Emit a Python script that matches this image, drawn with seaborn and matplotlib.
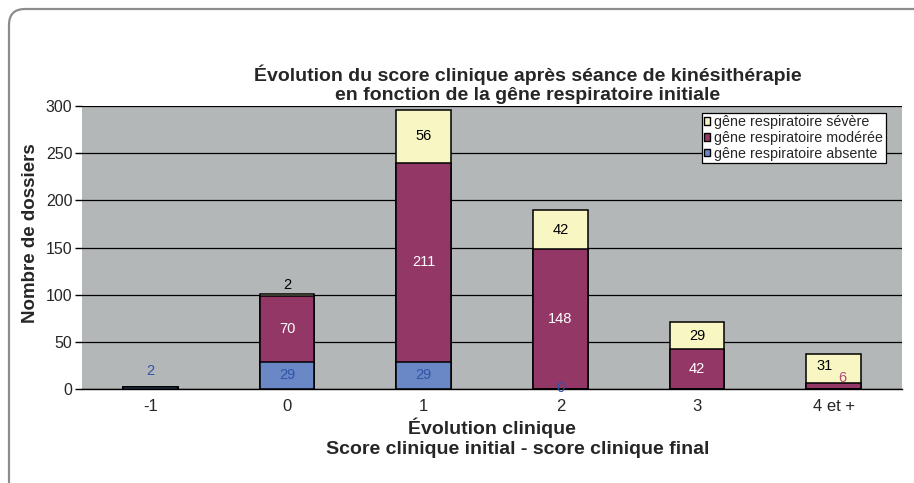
import pandas as pd
import matplotlib.pyplot as plt
import seaborn as sns
from matplotlib.patches import Patch, FancyBboxPatch

# data
categories = ["-1", "0", "1", "2", "3", "4 et +"]
absente = [2, 29, 29, 0, 0, 0]
moderee = [0, 70, 211, 148, 42, 6]
severe = [0, 2, 56, 42, 29, 31]

col_absente = "#6a87c6"
col_moderee = "#933767"
col_severe = "#f8f6c2"
bg_gray = "#b4b7b8"

sns.set_theme(style="white")
plt.rcParams["font.family"] = ["Liberation Sans", "DejaVu Sans"]

df = pd.DataFrame({"evol": categories, "absente": absente,
                   "moderee": moderee, "severe": severe})
df["cum_mod"] = df["absente"] + df["moderee"]
df["total"] = df["cum_mod"] + df["severe"]

fig = plt.figure(figsize=(9.14, 4.83), dpi=100)
fig.patch.set_facecolor("white")

# rounded frame around the chart (pixel coords)
frame = FancyBboxPatch((9, -40), 1000, 474 + 40, boxstyle="round,pad=0,rounding_size=16",
                       transform=None, facecolor="none", edgecolor="#8c8c8c", linewidth=1.6)
fig.patches.append(frame)

ax = fig.add_axes([82 / 914, 1 - 389 / 483, (902 - 82) / 914, (389 - 106) / 483])
ax.set_facecolor(bg_gray)

# stacked bars: draw cumulative totals from back to front
for col, color in [("total", col_severe), ("cum_mod", col_moderee), ("absente", col_absente)]:
    sns.barplot(data=df, x="evol", y=col, order=categories, color=color,
                width=0.4, edgecolor="black", linewidth=1.1, ax=ax, saturation=1, zorder=3)

ax.set_ylim(0, 300)
ax.set_xlim(-0.5, 5.5)
ax.set_yticks(range(0, 301, 50))
ax.yaxis.grid(True, color="black", linewidth=0.9)
ax.set_axisbelow(True)
for s in ["top", "right", "left"]:
    ax.spines[s].set_visible(False)
ax.spines["bottom"].set_color("black")
ax.spines["bottom"].set_linewidth(1)

ax.set_xticks(range(len(categories)))
ax.set_xticklabels(categories, fontsize=12)
ax.set_xticks([i + 0.5 for i in range(len(categories))], minor=True)
ax.tick_params(axis="x", which="major", length=0, pad=7)
ax.tick_params(axis="x", which="minor", length=5, width=1, color="black", direction="out")
ax.tick_params(axis="y", length=5, width=1, color="black", direction="out", labelsize=11.5, pad=2)
ax.tick_params(axis="y", left=True)
ax.set_xlabel("")
ax.set_ylabel("")

# value labels
lab_kw = dict(ha="center", va="center", fontsize=10.5, zorder=5)
for i in range(len(categories)):
    a, m, s = absente[i], moderee[i], severe[i]
    if m >= 20:
        ax.text(i, a + m / 2, str(m), color="white", **lab_kw)
    if s >= 20:
        ax.text(i - (0.07 if i == 5 else 0), a + m + s / 2 + (3 if i == 5 else 0), str(s), color="black", **lab_kw)
    if a >= 20:
        ax.text(i, a / 2, str(a), color="#2f55a4", **lab_kw)
# small values placed outside/near their segments
ax.text(0, 19, str(absente[0]), color="#2f55a4", **lab_kw)
ax.text(1, 110, str(severe[1]), color="black", **lab_kw)
ax.text(3, 1, str(absente[3]), color="#2f55a4", **lab_kw)
ax.text(5.06, 12, str(moderee[5]), color="#b04c7e", **lab_kw)

# legend
handles = [Patch(facecolor=col_severe, edgecolor="black", label="gêne respiratoire sévère"),
           Patch(facecolor=col_moderee, edgecolor="black", label="gêne respiratoire modérée"),
           Patch(facecolor=col_absente, edgecolor="black", label="gêne respiratoire absente")]
leg = ax.legend(handles=handles, loc="upper right", bbox_to_anchor=(0.98, 0.975), fontsize=10.3,
                frameon=True, fancybox=False, edgecolor="black", framealpha=1,
                handlelength=0.45, handleheight=0.45, handletextpad=0.3, borderpad=0.15,
                labelspacing=0.12, borderaxespad=0)
leg.get_frame().set_linewidth(0.9)

# titles
title_kw = dict(ha="center", va="center", fontsize=14, fontweight="bold")
fig.text(528 / 914, 1 - 75 / 483, "Évolution du score clinique après séance de kinésithérapie", **title_kw)
fig.text(528 / 914, 1 - 96 / 483, "en fonction de la gêne respiratoire initiale", **title_kw)
fig.text(492 / 914, 1 - 428 / 483, "Évolution clinique", **title_kw)
fig.text(518 / 914, 1 - 450 / 483, "Score clinique initial - score clinique final", **title_kw)
fig.text(31 / 914, 1 - 233 / 483, "Nombre de dossiers", rotation=90,
         ha="center", va="center", fontsize=13.5, fontweight="bold")

fig.savefig("out.png", dpi=100)
plt.close(fig)
